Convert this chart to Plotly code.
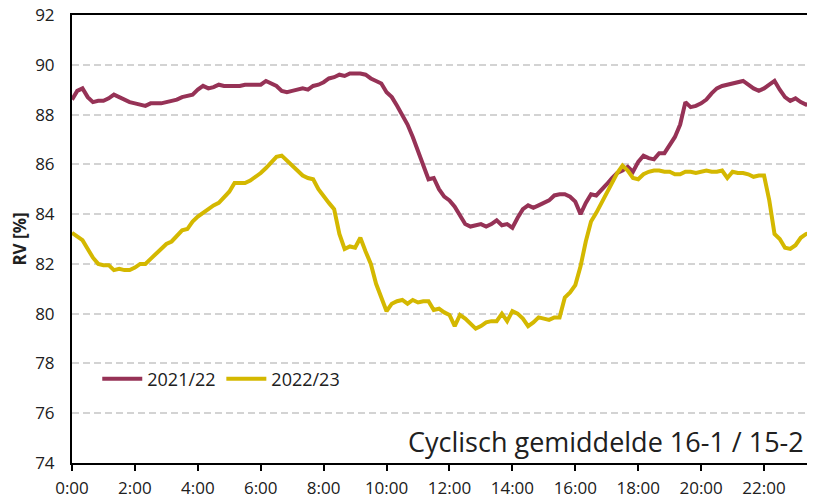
import numpy as np
import plotly.graph_objects as go

# 10-minute cyclic averages, relative humidity [%]
rv_2021_22 = [
    88.6, 88.95, 89.05, 88.7, 88.5, 88.55,
    88.55, 88.65, 88.8, 88.7, 88.6, 88.5,
    88.45, 88.4, 88.35, 88.45, 88.45, 88.45,
    88.5, 88.55, 88.6, 88.7, 88.75, 88.8,
    89.0, 89.15, 89.05, 89.1, 89.2, 89.15,
    89.15, 89.15, 89.15, 89.2, 89.2,
    89.2, 89.2, 89.35, 89.25, 89.15, 88.95,
    88.9, 88.95, 89.0, 89.05, 89.0, 89.15,
    89.2, 89.3, 89.45, 89.5, 89.6, 89.55,
    89.65, 89.65, 89.65, 89.6, 89.45, 89.35,
    89.25, 88.9, 88.7, 88.35, 87.95, 87.6,
    87.1, 86.5, 85.9, 85.4, 85.45, 85.0,
    84.7, 84.55, 84.3, 83.95, 83.6, 83.5,
    83.55, 83.6, 83.5, 83.6, 83.75, 83.55,
    83.6, 83.45, 83.85, 84.2, 84.35, 84.25,
    84.35, 84.45, 84.55, 84.75, 84.8,
    84.8, 84.7, 84.5, 84.0, 84.45, 84.8,
    84.75, 84.95, 85.2, 85.45, 85.65, 85.75,
    85.9, 85.7, 86.1, 86.35, 86.25, 86.2,
    86.45, 86.45, 86.8, 87.1, 87.6, 88.5,
    88.3, 88.35, 88.45, 88.6, 88.85, 89.05,
    89.15, 89.2, 89.25, 89.3, 89.35, 89.2,
    89.05, 88.95, 89.05, 89.2, 89.35, 89.0,
    88.7, 88.55, 88.65, 88.5, 88.4, 88.45,
    88.35, 88.4,
]

rv_2022_23 = [
    83.25, 83.1, 82.95, 82.6, 82.25, 82.0,
    81.95, 81.95, 81.75, 81.8, 81.75, 81.75,
    81.85, 82.0, 82.0, 82.2, 82.4, 82.6,
    82.8, 82.9, 83.15, 83.35, 83.4, 83.7,
    83.9, 84.05, 84.2, 84.35, 84.45, 84.7,
    84.9, 85.25, 85.25, 85.25, 85.35,
    85.5, 85.65, 85.85, 86.1, 86.3, 86.35,
    86.15, 86.0, 85.8, 85.55, 85.45, 85.4,
    85.0, 84.7, 84.45, 84.2, 83.2, 82.6,
    82.7, 82.65, 83.05, 82.5, 82.0, 81.2,
    80.6, 80.1, 80.4, 80.5, 80.55, 80.4,
    80.55, 80.45, 80.5, 80.5, 80.15, 80.2,
    80.05, 79.95, 79.5, 79.95, 79.8, 79.6,
    79.4, 79.5, 79.65, 79.7, 79.7, 80.0,
    79.7, 80.1, 80.0, 79.8, 79.5, 79.65,
    79.85, 79.8, 79.75, 79.85, 79.85,
    80.65, 80.85, 81.15, 81.9, 82.9, 83.7,
    84.05, 84.45, 84.8, 85.25, 85.65, 85.95,
    85.75, 85.45, 85.4, 85.6, 85.7, 85.75,
    85.75, 85.7, 85.7, 85.6, 85.6, 85.7,
    85.7, 85.65, 85.7, 85.75, 85.7, 85.7,
    85.75, 85.45, 85.7, 85.65, 85.65, 85.6,
    85.5, 85.55, 85.55, 84.55, 83.2, 83.0,
    82.65, 82.6, 82.75, 83.05, 83.2, 83.25,
    83.9, 84.1,
]

tick_hours = list(range(0, 24, 2))
tick_labels = [f"{h}:00" for h in tick_hours]

hours = np.arange(len(rv_2021_22)) / 6.0

FONT = "Open Sans"
MAROON = "#963256"
YELLOW = "#D4B800"

fig = go.Figure()
fig.add_trace(go.Scatter(
    x=hours, y=rv_2021_22, mode="lines", name="2021/22",
    line=dict(color=MAROON, width=4), legend="legend",
))
fig.add_trace(go.Scatter(
    x=hours, y=rv_2022_23, mode="lines", name="2022/23",
    line=dict(color=YELLOW, width=4), legend="legend2",
))

fig.add_annotation(
    text="Cyclisch gemiddelde 16-1 / 15-2",
    xref="paper", yref="paper", x=0.988, y=0.047,
    xanchor="right", yanchor="middle", showarrow=False,
    font=dict(family=FONT, size=27, color="#202020"),
)

legend_common = dict(
    orientation="h", yanchor="middle", y=0.1875, xanchor="left",
    bgcolor="rgba(0,0,0,0)", borderwidth=0, itemwidth=40,
    font=dict(family=FONT, size=18, color="#202020"),
)

# page body has an 8px margin, so the figure is a bit smaller than the window
fig.update_layout(
    width=807, height=490,
    margin=dict(l=64, r=0, t=7, b=35, autoexpand=False),
    paper_bgcolor="white", plot_bgcolor="white",
    font=dict(family=FONT, color="#202020"),
    showlegend=True,
    legend=dict(x=0.034, **legend_common),
    legend2=dict(x=0.201, **legend_common),
    xaxis=dict(
        range=[0, 23.62], tickvals=tick_hours, ticktext=tick_labels,
        showgrid=False, zeroline=False, automargin=False,
        showline=True, linecolor="black", linewidth=2, mirror=True,
        ticks="outside", ticklen=6, tickwidth=2, tickcolor="black",
        ticklabelstandoff=3, ticklabeloverflow="allow",
        tickfont=dict(family=FONT, size=17, color="#202020"),
    ),
    yaxis=dict(
        range=[74, 92], dtick=2, tick0=74,
        showgrid=True, gridcolor="#D3D3D3", gridwidth=1.5, griddash="7px,4px",
        zeroline=False, automargin=False,
        showline=True, linecolor="black", linewidth=2,
        ticks="", ticklabelstandoff=12, ticklabeloverflow="allow",
        tickfont=dict(family=FONT, size=17, color="#202020"),
        title=dict(text="<b>RV [%]</b>", standoff=12,
                   font=dict(family=FONT, size=17, color="#202020")),
    ),
)

fig.write_html("out.html")
